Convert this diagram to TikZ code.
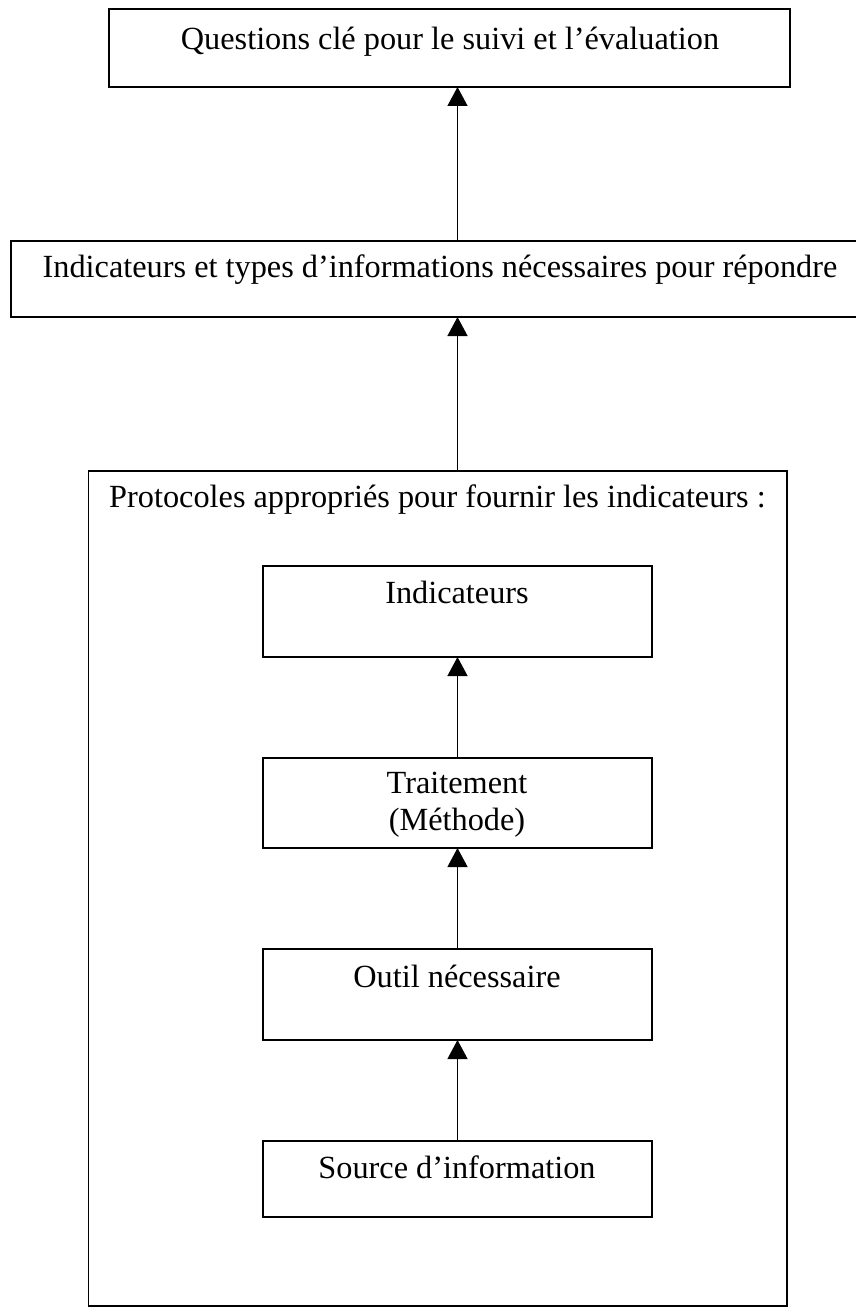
\documentclass[tikz,border=0pt]{standalone}
\usepackage{fontspec}
\setmainfont{Liberation Serif}
\usetikzlibrary{arrows.meta}
\begin{document}
\begin{tikzpicture}[x=1pt,y=-1pt,
  box/.style={draw=black, line width=1.6pt, rectangle, inner sep=0pt, outer sep=0pt},
  lbl/.style={anchor=base, inner sep=0pt, font=\fontsize{32.3}{37}\selectfont, align=center},
  arr/.style={draw=black, line width=1.3pt, -{Triangle[width=20pt,length=19pt]}}]
\useasboundingbox (0,0) rectangle (855,1308);
\coordinate (ax) at (457.5,0);
% boxes
\node[box, minimum width=681pt, minimum height=78pt] (q) at (449.5,48) {};
\node[box, minimum width=858pt, minimum height=76pt] (need) at (440,279) {};
\node[box, minimum width=698.5pt, minimum height=835pt] (prot) at (437.75,888.5) {};
\node[box, minimum width=389pt, minimum height=91pt] (ind) at (457.5,611.5) {};
\node[box, minimum width=389pt, minimum height=90pt] (trt) at (457.5,803) {};
\node[box, minimum width=389pt, minimum height=91pt] (out) at (457.5,994.5) {};
\node[box, minimum width=389pt, minimum height=76pt] (src) at (457.5,1179) {};
% texts
\node[lbl] (tq) at (450,49.3) {Questions clé pour le suivi et l’évaluation};
\node[lbl] (tneed) at (440,277) {Indicateurs et types d’informations nécessaires pour répondre};
\node[lbl] (tprot) at (437.5,507) {Protocoles appropriés pour fournir les indicateurs :};
\node[lbl] (tind) at (457,603) {Indicateurs};
\node[lbl] (ttrt) at (457,830) {Traitement\\(Méthode)};
\node[lbl] (tout) at (457,987) {Outil nécessaire};
\node[lbl] (tsrc) at (457,1178) {Source d’information};
% arrows
\draw[arr] (need.north -| ax) -- (q.south -| ax);
\draw[arr] (prot.north -| ax) -- (need.south -| ax);
\draw[arr] (trt.north -| ax) -- (ind.south -| ax);
\draw[arr] (out.north -| ax) -- (trt.south -| ax);
\draw[arr] (src.north -| ax) -- (out.south -| ax);
\end{tikzpicture}
\end{document}
